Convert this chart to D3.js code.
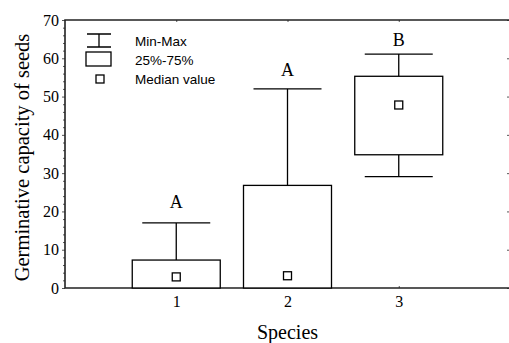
<!DOCTYPE html>
<html>
<head>
<meta charset="utf-8">
<script src="https://cdn.jsdelivr.net/npm/d3@7"></script>
<style>
  body { margin: 0; background: #fff; }
  svg { display: block; }
</style>
</head>
<body>
<svg width="509" height="343"></svg>
<script>
// data
var species = [1, 2, 3];
var minVals = [0, 0, 29.1];
var q1Vals = [0, 0, 34.8];
var medianVals = [2.9, 3.2, 47.8];
var q3Vals = [7.3, 26.8, 55.3];
var maxVals = [17, 52, 61.1];
var groupLetters = ["A", "A", "B"];
var letterAt = [21, 55.3, 63.2]; // where the letters sit, in data units
var yTicks = [0, 10, 20, 30, 40, 50, 60, 70];

var svg = d3.select("svg"),
    plotL = 65, plotT = 20, plotR = 510, plotB = 288;

var x = d3.scaleLinear().domain([0, 4]).range([plotL, plotR]);
var y = d3.scaleLinear().domain([0, 70]).range([plotB, plotT]);

var boxW = 88, capW = 68, medSize = 8;
var ink = "#000", axisInk = "#222";

// axes
var yAxis = d3.axisLeft(y).tickValues(yTicks).tickSize(3).tickPadding(3).tickFormat(d3.format("d"));
var gy = svg.append("g").attr("transform", "translate(" + plotL + ",0)").call(yAxis);
gy.select(".domain").remove();
gy.selectAll("text").attr("font-family", "Liberation Serif").attr("font-size", 16).attr("fill", ink);

// minor ticks every 2
var gyMinor = svg.append("g").attr("transform", "translate(" + plotL + ",0)")
  .call(d3.axisLeft(y).tickValues(d3.range(0, 71, 2).filter(function (d) { return d % 10; })).tickSize(2).tickFormat(""));
gyMinor.select(".domain").remove();

var xAxis = d3.axisBottom(x).tickValues(species).tickSize(-2).tickPadding(8).tickFormat(d3.format("d"));
var gx = svg.append("g").attr("transform", "translate(0," + plotB + ")").call(xAxis);
gx.select(".domain").remove();
gx.selectAll("text").attr("font-family", "Liberation Serif").attr("font-size", 16).attr("fill", ink);

var gTop = svg.append("g").attr("transform", "translate(0," + plotT + ")")
  .call(d3.axisTop(x).tickValues(species).tickSize(-2).tickFormat(""));
gTop.select(".domain").remove();

var gRight = svg.append("g").attr("transform", "translate(" + plotR + ",0)")
  .call(d3.axisRight(y).tickValues(yTicks).tickSize(-3).tickFormat(""));
gRight.select(".domain").remove();

svg.selectAll(".tick line").attr("stroke", "#555");

// frame
svg.append("path")
  .attr("d", "M" + plotL + "," + plotT + "V" + plotB + "H" + plotR + "V" + plotT + "Z")
  .attr("fill", "none").attr("stroke", axisInk).attr("stroke-width", 1.6);

// boxes
var g = svg.append("g").attr("fill", "none").attr("stroke", ink).attr("stroke-width", 1.3);
species.forEach(function (s, i) {
  var cx = x(s);
  g.append("line").attr("x1", cx).attr("x2", cx).attr("y1", y(q3Vals[i])).attr("y2", y(maxVals[i]));
  g.append("line").attr("x1", cx - capW / 2).attr("x2", cx + capW / 2).attr("y1", y(maxVals[i])).attr("y2", y(maxVals[i]));
  if (minVals[i] < q1Vals[i]) {
    g.append("line").attr("x1", cx).attr("x2", cx).attr("y1", y(q1Vals[i])).attr("y2", y(minVals[i]));
    g.append("line").attr("x1", cx - capW / 2).attr("x2", cx + capW / 2).attr("y1", y(minVals[i])).attr("y2", y(minVals[i]));
  }
  g.append("rect").attr("x", cx - boxW / 2).attr("y", y(q3Vals[i]))
    .attr("width", boxW).attr("height", y(q1Vals[i]) - y(q3Vals[i])).attr("fill", "#fff");
  g.append("rect").attr("x", cx - medSize / 2).attr("y", y(medianVals[i]) - medSize / 2)
    .attr("width", medSize).attr("height", medSize).attr("fill", "#fff");
  svg.append("text").attr("x", cx).attr("y", y(letterAt[i])).attr("text-anchor", "middle")
    .attr("font-family", "Liberation Serif").attr("font-size", 18).text(groupLetters[i]);
});

// axis titles
svg.append("text").attr("x", x(2)).attr("y", 339).attr("text-anchor", "middle")
  .attr("font-family", "Liberation Serif").attr("font-size", 20).text("Species");
svg.append("text").attr("transform", "translate(29,157.5) rotate(-90)").attr("text-anchor", "middle")
  .attr("font-family", "Liberation Serif").attr("font-size", 20.5).text("Germinative capacity of seeds");

// legend
var lg = svg.append("g").attr("fill", "none").attr("stroke", ink).attr("stroke-width", 1.3);
lg.append("path").attr("d", "M87,34H111M87,47H111M99,34V47");
lg.append("rect").attr("x", 86).attr("y", 52).attr("width", 25).attr("height", 14);
lg.append("rect").attr("x", 96).attr("y", 75).attr("width", 8).attr("height", 8);
var legendText = ["Min-Max", "25%-75%", "Median value"];
var legendY = [46, 65, 84];
legendText.forEach(function (t, i) {
  svg.append("text").attr("x", 135).attr("y", legendY[i])
    .attr("font-family", "Liberation Sans").attr("font-size", 13.5).text(t);
});
</script>
</body>
</html>
